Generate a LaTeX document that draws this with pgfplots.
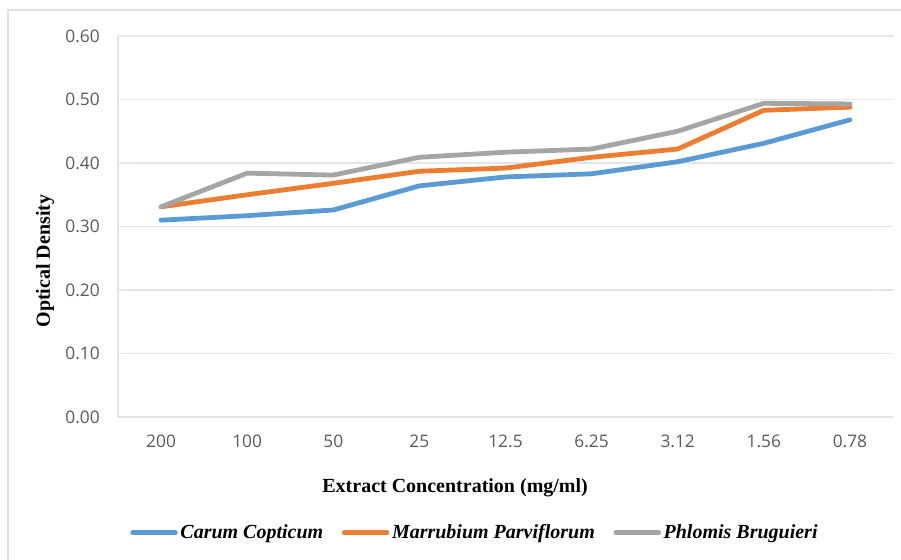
\documentclass[border=0pt]{standalone}
\usepackage{fontspec}
\setmainfont{Liberation Serif}
\newfontfamily\tickfont{Open Sans}
\usepackage{pgfplots}
\pgfplotsset{compat=1.18}
\usetikzlibrary{calc}
\definecolor{cblue}{HTML}{5B9BD5}
\definecolor{corange}{HTML}{ED7D31}
\definecolor{cgray}{HTML}{A5A5A5}
\definecolor{gridc}{HTML}{E2E6EC}
\definecolor{tickc}{HTML}{595959}
\definecolor{framec}{HTML}{DDE1E6}
\begin{document}
\begin{tikzpicture}[x=0.75pt,y=0.75pt]
\begin{axis}[
  scale only axis, width=581.25pt, height=285.75pt,
  xmin=-0.5, xmax=8.5, ymin=0, ymax=0.6,
  xtick={0,...,8},
  xticklabels={200,100,50,25,12.5,6.25,3.12,1.56,0.78},
  ytick={0,0.1,0.2,0.3,0.4,0.5,0.6},
  yticklabels={0.00,0.10,0.20,0.30,0.40,0.50,0.60},
  axis x line*=bottom,
  axis y line*=left,
  x axis line style={color=gridc, line width=0.8pt, -},
  y axis line style={color=gridc, line width=0.8pt, -},
  ymajorgrids, grid style={color=gridc, line width=0.8pt},
  major tick length=0pt,
  tick label style={font=\tickfont\fontsize{13}{15}\selectfont, text=tickc, inner sep=0pt},
  yticklabel style={anchor=east, xshift=-13.5pt},
  xticklabel style={anchor=north, yshift=-13pt},
  xlabel={\bfseries Extract Concentration (mg/ml)},
  ylabel={\bfseries Optical Density},
  label style={font=\fontsize{15}{17}\selectfont},
  xlabel style={at={(rel axis cs:0.435,-0.186)}, anchor=center},
  ylabel style={at={(rel axis cs:-0.094,0.409)}, anchor=center, rotate=0},
  legend columns=3,
  legend style={at={(rel axis cs:0.461,-0.304)}, anchor=center, draw=none, fill=none,
    font=\bfseries\itshape\fontsize{15}{17}\selectfont,
    /tikz/every even column/.append style={column sep=12pt},
    nodes={inner sep=2pt}},
  legend image code/.code={\draw[#1] (0pt,0pt) -- (32pt,0pt);},
  every axis plot/.append style={line width=3.6pt, line cap=round, line join=round},
  clip=false,
]
\coordinate (O) at (rel axis cs:0,0);
\addplot[color=cblue, no marks] coordinates {(0,0.310) (1,0.317) (2,0.326) (3,0.364) (4,0.378) (5,0.383) (6,0.402) (7,0.431) (8,0.468)};
\addlegendentry{Carum Copticum}
\addplot[color=corange, no marks] coordinates {(0,0.331) (1,0.350) (2,0.368) (3,0.387) (4,0.392) (5,0.409) (6,0.422) (7,0.483) (8,0.488)};
\addlegendentry{Marrubium Parviflorum}
\addplot[color=cgray, no marks] coordinates {(0,0.331) (1,0.384) (2,0.381) (3,0.409) (4,0.417) (5,0.422) (6,0.450) (7,0.494) (8,0.493)};
\addlegendentry{Phlomis Bruguieri}
\end{axis}
\pgfresetboundingbox
\path[use as bounding box] ($(O)+(-118,-143)$) rectangle ++(901,560);
\draw[color=framec, line width=1pt] ($(O)+(-110,-143)$) -- ++(0,550) -- ++(893,0);
\end{tikzpicture}
\end{document}
